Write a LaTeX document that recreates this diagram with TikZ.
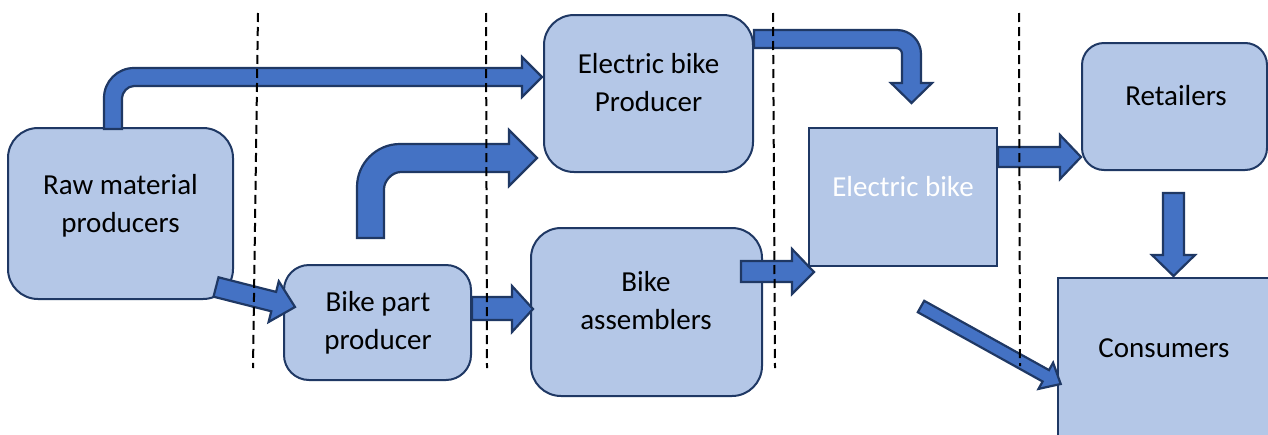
\documentclass[tikz,border=0pt]{standalone}
\usepackage{fontspec}
\setmainfont{Carlito}
\definecolor{boxfill}{HTML}{B4C7E7}
\definecolor{navy}{HTML}{1F3864}
\definecolor{arrowfill}{HTML}{4472C4}
\begin{document}
\begin{tikzpicture}[x=1pt,y=-1pt,
  box/.style={draw=navy, fill=boxfill, line width=2pt, inner sep=0pt, outer sep=0pt},
  rbox/.style={box, rounded corners=#1},
  blockarrow/.style={draw=navy, fill=arrowfill, line width=2.2pt, line join=miter},
  sepline/.style={black, line width=2pt, dash pattern=on 9pt off 5pt},
  lbl/.style={font=\fontsize{29}{38}\selectfont, align=center, inner sep=0pt}]
\useasboundingbox[fill=white] (0,0) rectangle (1268,434);

% boxes
\node[rbox=30pt, minimum width=225pt, minimum height=171pt] (raw) at (120.5,213.5) {};
\node[rbox=25pt, minimum width=187pt, minimum height=115pt] (part) at (377.5,322.5) {};
\node[rbox=30pt, minimum width=209pt, minimum height=157pt] (ebprod) at (648.5,93.5) {};
\node[rbox=30pt, minimum width=231pt, minimum height=168pt] (assem) at (646.5,312) {};
\node[box, minimum width=188pt, minimum height=138pt] (ebike) at (903,197) {};
\node[rbox=22pt, minimum width=185pt, minimum height=127pt] (retail) at (1174.5,106.5) {};
\node[box, minimum width=242pt, minimum height=182pt] (cons) at (1179,369) {};

% labels
\node[lbl] (rawT) at (120.5,205.5) {Raw material\\producers};
\node[lbl] (partT) at (378,323) {Bike part\\producer};
\node[lbl] (ebprodT) at (648.5,83) {Electric bike\\Producer};
\node[lbl] (assemT) at (646,301) {Bike\\assemblers};
\node[lbl, anchor=base, text=white] (ebikeT) at (903,196) {Electric bike};
\node[lbl, anchor=base] (retailT) at (1176,105) {Retailers};
\node[lbl, anchor=base] (consT) at (1164,357) {Consumers};

% bent arrow: raw -> electric bike producer
\draw[blockarrow] (104,129) -- (104,98) .. controls (104,81.4) and (117.4,68) .. (134,68)
  -- (522,68) -- (522,57) -- (542,77) -- (522,97) -- (522,86) -- (134,86)
  .. controls (127.4,86) and (122,92.6) .. (122,98) -- (122,129) -- cycle;
% thick bent arrow
\draw[blockarrow] (357,238) -- (357,187) .. controls (357,163.3) and (376.3,144) .. (400,144)
  -- (509,144) -- (509,130) -- (537,158) -- (509,186) -- (509,172) -- (401,172)
  .. controls (391.6,172) and (384,181.4) .. (384,189) -- (384,238) -- cycle;
% bent arrow: electric bike producer -> down
\draw[blockarrow] (754,30) -- (897,30) .. controls (910.2,30) and (921,40.8) .. (921,54)
  -- (921,83) -- (932,83) -- (911.5,103) -- (891,83) -- (902,83) -- (902,54)
  .. controls (902,50.7) and (899.3,48) .. (896,48) -- (754,48) -- cycle;
% raw -> bike part
\draw[blockarrow] (218.5,277.3) -- (276.1,291.9) -- (278.8,281.3) -- (295,307)
  -- (268.6,322.0) -- (271.3,311.3) -- (213.5,296.7) -- cycle;
% bike part -> assemblers
\draw[blockarrow] (472,297) -- (512,297) -- (512,286) -- (533,309) -- (512,332) -- (512,320) -- (472,320) -- cycle;
% assemblers -> electric bike
\draw[blockarrow] (741,261) -- (792,261) -- (792,249) -- (814,272) -- (792,294) -- (792,282) -- (741,282) -- cycle;
% electric bike -> retailers
\draw[blockarrow] (998,147) -- (1060,147) -- (1060,135) -- (1081,157) -- (1060,179) -- (1060,167) -- (998,167) -- cycle;
% retailers -> consumers
\draw[blockarrow] (1163,193) -- (1184,193) -- (1184,255) -- (1195,255) -- (1173.5,276) -- (1152,255) -- (1163,255) -- cycle;
% diagonal -> consumers
\draw[blockarrow] (924.2,300.8) -- (1049.0,370.1) -- (1053.1,362.7) -- (1060.7,384)
  -- (1038.5,388.9) -- (1042.6,381.5) -- (917.8,312.2) -- cycle;

% dashed separators
\draw[sepline] (258,13) -- (253,368);
\draw[sepline] (486,13) -- (487,368);
\draw[sepline] (773,13) -- (775,368);
\draw[sepline] (1019,13) -- (1020,366);
\end{tikzpicture}
\end{document}
